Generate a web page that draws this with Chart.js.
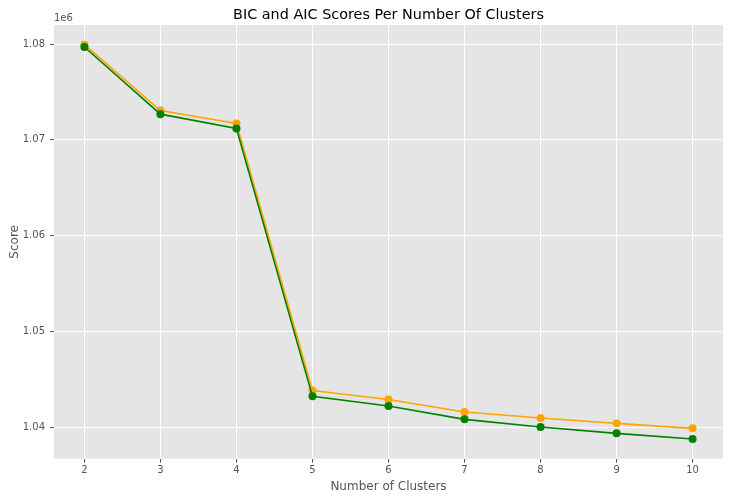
<!DOCTYPE html>
<html><head><meta charset="utf-8">
<script src="https://cdn.jsdelivr.net/npm/chart.js@4"></script>
<style>html,body{margin:0;padding:0;background:#fff}#wrap{width:730px;height:500px}</style>
</head><body><div id="wrap"><canvas id="c" width="730" height="500"></canvas></div>
<script>
const clusters = [2, 3, 4, 5, 6, 7, 8, 9, 10];
const bicScores = [1079930, 1073050, 1071700, 1043820, 1042880, 1041560, 1040940, 1040380, 1039860];
const aicScores = [1079690, 1072680, 1071180, 1043200, 1042190, 1040800, 1040000, 1039340, 1038750];
const xTicks = [2, 3, 4, 5, 6, 7, 8, 9, 10];
const yTicks = [1040000, 1050000, 1060000, 1070000, 1080000];
const titleText = 'BIC and AIC Scores Per Number Of Clusters';
const xLabel = 'Number of Clusters';
const yLabel = 'Score';
const offsetText = '1e6';

const FONT = '"DejaVu Sans", sans-serif';

const decor = {
  id: 'decor',
  beforeDraw(chart) {
    const {ctx, chartArea: a} = chart;
    ctx.save();
    ctx.fillStyle = '#E5E5E5';
    ctx.fillRect(a.left, a.top, a.right - a.left, a.bottom - a.top);
    ctx.restore();
  },
  afterDraw(chart) {
    const {ctx, chartArea: a} = chart;
    ctx.save();
    ctx.fillStyle = '#000';
    ctx.font = '14.4px ' + FONT;
    ctx.textAlign = 'center';
    ctx.textBaseline = 'alphabetic';
    ctx.fillText(titleText, (a.left + a.right) / 2, 19);
    ctx.fillStyle = '#555';
    ctx.font = '12px ' + FONT;
    ctx.fillText(xLabel, (a.left + a.right) / 2, 490);
    ctx.save();
    ctx.translate(18, (a.top + a.bottom) / 2);
    ctx.rotate(-Math.PI / 2);
    ctx.fillText(yLabel, 0, 0);
    ctx.restore();
    ctx.font = '10px ' + FONT;
    ctx.textAlign = 'left';
    ctx.fillText(offsetText, a.left, 21);
    ctx.restore();
  }
};

new Chart(document.getElementById('c'), {
  type: 'line',
  data: {
    datasets: [
      {
        label: 'AIC',
        data: clusters.map((c, i) => ({x: c, y: aicScores[i]})),
        borderColor: 'green', backgroundColor: 'green',
        borderWidth: 1.6, pointRadius: 4, pointBorderWidth: 0,
        tension: 0, fill: false
      },
      {
        label: 'BIC',
        data: clusters.map((c, i) => ({x: c, y: bicScores[i]})),
        borderColor: 'orange', backgroundColor: 'orange',
        borderWidth: 1.6, pointRadius: 4, pointBorderWidth: 0,
        tension: 0, fill: false
      }
    ]
  },
  options: {
    responsive: false,
    animation: false,
    devicePixelRatio: 1,
    layout: {padding: {top: 25, right: 7, left: 0, bottom: 0}},
    plugins: {legend: {display: false}, title: {display: false}, tooltip: {enabled: false}},
    scales: {
      x: {
        type: 'linear',
        min: 1.6, max: 10.4,
        afterBuildTicks: s => { s.ticks = xTicks.map(v => ({value: v})); },
        afterFit: s => { s.height = 41.3; },
        grid: {color: '#fff', lineWidth: 1, tickColor: '#555', tickLength: 4, drawTicks: true},
        border: {display: false},
        ticks: {color: '#555', font: {family: FONT, size: 10}, padding: 2, maxRotation: 0,
          callback: v => String(v)}
      },
      y: {
        type: 'linear',
        min: 1036690, max: 1081990,
        afterBuildTicks: s => { s.ticks = yTicks.map(v => ({value: v})); },
        afterFit: s => { s.width = 54; },
        grid: {color: '#fff', lineWidth: 1, tickColor: '#555', tickLength: 4, drawTicks: true},
        border: {display: false},
        ticks: {color: '#555', font: {family: FONT, size: 10}, padding: 5,
          callback: v => (v / 1e6).toFixed(2)}
      }
    }
  },
  plugins: [decor]
});
</script>
</body></html>
